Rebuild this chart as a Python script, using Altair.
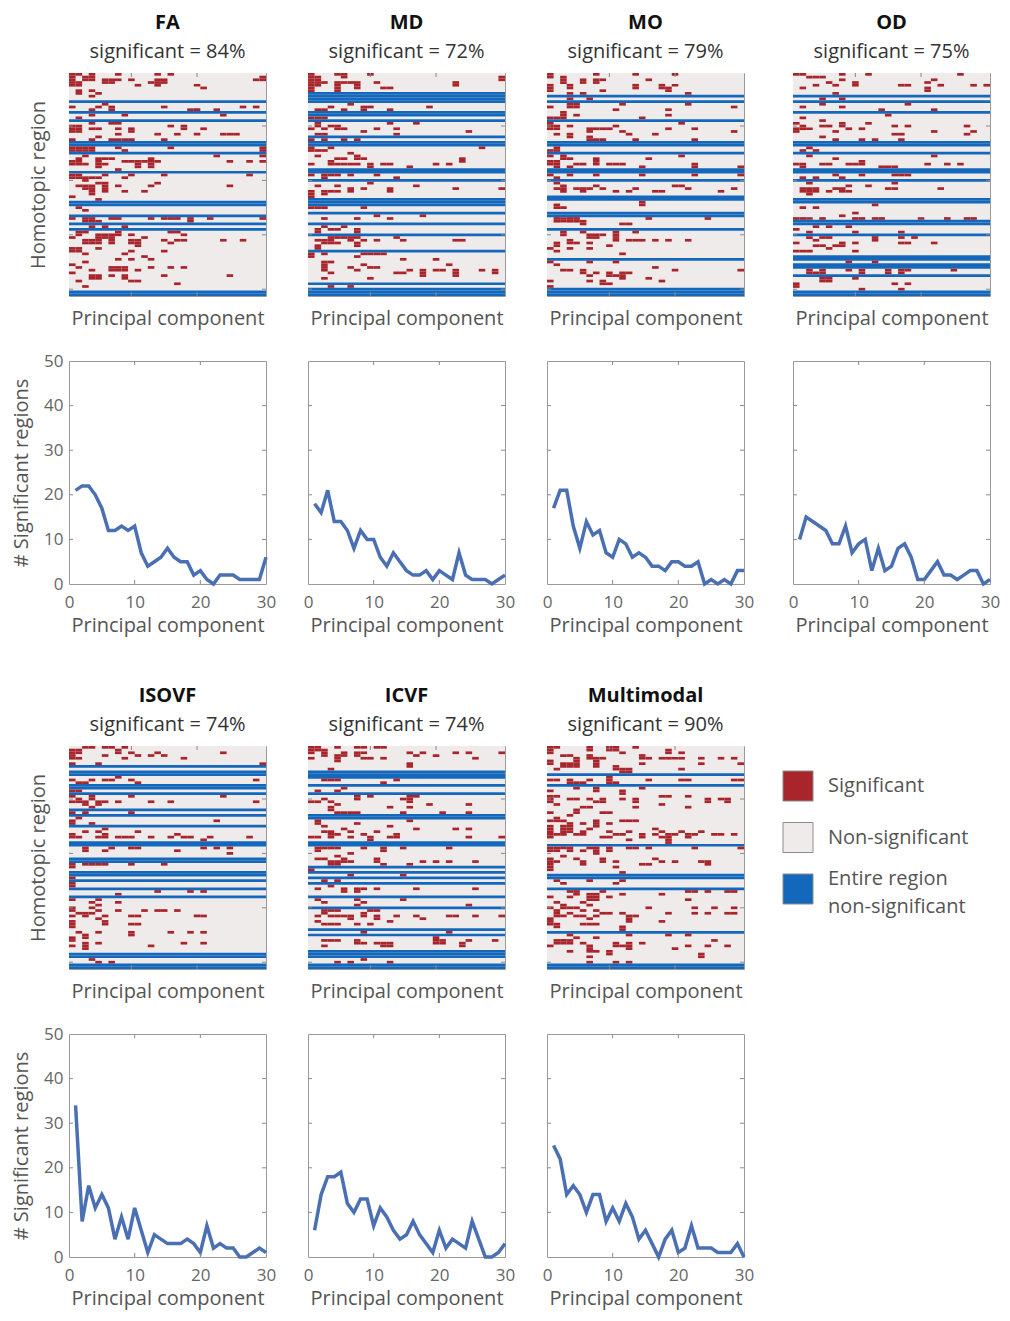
import altair as alt
import pandas as pd

FONT = "Open Sans"
N_ROWS = 82
N_PCS = 30
PCS = list(range(1, 31))
PLOT_W = 197
PLOT_H = 223

PANELS = ["FA", "MD", "MO", "OD", "ISOVF", "ICVF", "Multimodal"]
PERCENT = [84, 72, 79, 75, 74, 74, 90]

STATUS = ["Significant", "Non-significant", "Entire region non-significant"]
LEGEND_LABELS = ["Significant", "Non-significant", "Entire region|non-significant"]
COLORS = ["#A8252B", "#EFEBEB", "#1368BB"]
LINE_COLOR = "#4A70B3"
TICK_COLOR = "#8a8a8a"

HEAT_X_TICKS = [9.5, 19.5]
HEAT_Y_TICKS = [19.5, 39.5, 59.5, 79.5]
LINE_X_TICKS = [10, 20]
LINE_Y_TICKS = [10, 20, 30, 40]

# heatmap rows (top to bottom): "B" = entire region non-significant, otherwise significant PC columns (0-based)
FA_ROWS = [
    "0 1 3 7 13 15", "0 2 3 29", "0 2 3 5 6 7 9 13 14 28 29", "0 1 5 6 12 13 14", "0 1 10 13 19", "20", "1 3", "1 4", "3", "",
    "B", "5", "0 4 6 14 26 28", "3 6 18 19 22", "B", "3 8 23", "1", "B", "3 6 7", "0 1 15 17",
    "0 1 3 4 7 9 17 20", "0 1 9", "7 13 16 19 23 24 25", "4", "0 3 6 7 8 9 14", "B", "B", "0 1 2 3 7 15 29", "0 1 2 3 8 29", "B",
    "2 22 29", "1 4 5 6 12", "0 1 4 8 9 10 11 12 13 24 27 29", "0 1 2 4 5 10 12", "4 10 12", "7", "B", "0 1 5 9 14 27", "0 1 2 3 4 8", "2",
    "4 5 13", "1 2 3 5 7 12 24", "2 3 5", "3 5 8 11", "3", "0", "4", "B", "B", "1",
    "2", "", "B", "0 2 3 6 7 12 14 15 16 18 21 29", "2 3 4 18", "B", "3 5 8", "B", "1 2 7 15 16", "1 4 5 6 7 9 17",
    "0 4 5 6 11", "2 3 4 6 9 10 14 16 17 23 26", "2 3 4 6 9 10 15", "10", "0 1 4", "0 1 9 14", "2 8", "11", "7 9 12", "2",
    "0", "1 6 7 8 12 15 17", "3 6 7 8 10", "0", "3 4 6 8 14 24", "3 4 8", "1 9 10", "16", "2", "",
    "B", "B",
]
MD_ROWS = [
    "0 4 5 9", "0 1 5 29", "0 1 29", "0 1 2 4 5 6 7 10 22", "0 1 4 7 22", "0 4 7 11 12", "0 4", "B", "B", "B",
    "B", "6", "3 8 9 18", "1 2 5 8 12", "B", "B", "0 1 2", "B", "1 12 16", "1 3 4",
    "0 2 4 5 10 13", "8 24", "1 2 13", "B", "0 2 5 7", "B", "B", "0 3 26", "0 1 2", "6",
    "1 7", "4 5 7 8 23", "3 23", "0 3 4 5 6 7 9 11 12 19 21", "9 15", "B", "B", "0 2 3 4 6 10", "2 13", "B",
    "9", "1 4 16", "6 8 12 22 29", "0 2 3 4 6 12", "0 2", "0", "B", "B", "B", "0 1 2 8",
    "", "B", "10 17", "2 7 12", "", "B", "2 5", "1 3 4 7", "1 7", "B",
    "3 4 5 6 7 13", "1 2 3 6 8 10 14 22 23", "2 3 4 7", "1 7", "1", "B", "0 2 8 9 10 11", "0 7", "14 19", "2 3",
    "2 8 21", "2 6 9 10", "2 7 15 17 19 20 22 26 28", "3 13 14 17 22 28", "17 22", "2 9", "", "B", "3 6", "B",
    "B", "B",
]
MO_ROWS = [
    "0 7 13 19", "0 2", "2 5 7 8 15", "2 5 7", "0 3 13 17 19", "0 3 13 17 18", "0 8 18", "3 5 21", "B", "3 6",
    "B", "3 4 11 21", "0 3 4 28", "10 18", "2", "2 4 18", "0 1 2 14", "B", "0 20", "0 1 3 10",
    "0 1 6 7 8 9 18 22", "6 11 28", "1 3 12 16", "3 6", "6 7 8 13 22", "B", "B", "1", "0 1", "B",
    "0 2 20", "2 3 7 15", "0 1 7", "0 1 4 5 7 9 10 11 22", "1 3 14 22 29", "B", "B", "0 3 7 14 22 29", "1", "B",
    "1", "2 7 19 20", "1 2 4 5 6 8 13 21 28", "2 5 10 12 16 17 26", "", "B", "B", "14", "1 14", "1 2",
    "", "B", "B", "1 2 3 4 15 24", "1 2 3 4 5", "5 11 12", "", "B", "2 5 10 13", "2 6 7 8 10",
    "6 7 10", "3 10 12 13 14 16 18 21", "1 3 4 6", "1 9", "0 3 6", "1", "11", "", "B", "0 6 10",
    "1", "16", "2 3 5 19 29", "5 7 9 11 12", "6 9 10 11", "11 15", "0 6 8 17", "8 9", "0", "B",
    "B", "B",
]
OD_ROWS = [
    "0 1 7 11 25", "2 3 4", "7 21", "5 9 20", "3 6 9 16 17 22 27 29", "1 20", "20", "6", "B", "4 7",
    "B", "4 17", "1 7", "13 21", "B", "14", "1", "4", "0 7 11", "1 4 5 7 15 17 26",
    "0 1 2 8 10", "0 6 21 27", "15 16 26", "4", "6 10 12 16", "B", "B", "2", "1 3", "B",
    "2 21", "6", "10", "0 1 4 5 8 9 10 20 23 25", "1 13 14 15", "B", "B", "6 10 15 16 17", "1 3 7", "B",
    "2 15", "8 11", "1 2 3 6 7 14 15 22", "1 2 3 5 7 8", "2", "", "B", "B", "12", "1 3",
    "", "9", "7", "0 1 2 4 9 10 12 13 19 23 26 27", "B", "B", "3 5 8", "0", "2 9 16", "B",
    "2 4 5 12 16 18", "3 12", "0 7 9 16 17 21", "3 4 6 7", "5", "0 1 2 9", "", "B", "B", "8 12",
    "B", "B", "2 4 8 10 14 16 17 24", "2 3 4 10 14 16", "B", "4 5 9", "4 5", "0 15 17", "0", "10 16",
    "B", "B",
]
ISOVF_ROWS = [
    "2 3 5 6 8", "0 1 7", "0 1 7 9 13 23", "0 5 10 12 14", "0 1 8 17", "", "0 4 29", "B", "", "B",
    "B", "7", "0 3 5 6 9 28", "1 2 10", "B", "B", "0 1", "B", "0 3 9 23", "1 3",
    "0 1 2 4 5 7 12 15 28", "2 4", "3", "B", "0 2 9", "B", "1", "0 22", "0 3", "B",
    "5", "2 4 10", "0 5 16", "0 1 4 5 7 8 9 12 15 17 18 21 27", "20", "B", "B", "2 6 9 10 20 22 24", "2 5 16", "24",
    "", "B", "B", "0 2 3 4 5 9 14", "0", "", "B", "B", "0", "B",
    "0", "0", "B", "13 18 20", "7", "B", "0 4", "3 7", "4", "0 3",
    "0 4 7 11 13 14 16", "1 2 3", "0 2 5 9 10 19 20", "4", "0 5", "0 5 9 10", "0", "", "1 4 9 15 18 20", "2 9",
    "0 2", "0", "2 4 17 20", "0 2 12", "2", "", "B", "B", "3", "4 6",
    "B", "B",
]
ICVF_ROWS = [
    "0 1 4 7 8 10 11", "0 1 2", "0 2 5 7 8 15 17 22 24 29", "2 4 5 7 16 19", "0 4 8 9 11 25", "4", "15", "15", "3", "B",
    "B", "B", "2 3 4 13", "11", "B", "5", "1 4", "B", "7 9 15 16", "2 7 14 15",
    "0 1 3 15", "4 18 24", "3 12 15", "3", "4 5 6 7 14 20 24", "B", "B", "1 15", "1 7", "2 12",
    "5 16 22 24", "2 3 6 10", "3 4 8 13", "0 1 3 6 9 12 13 24 29", "9", "B", "B", "1 2 3 4 8 11 14 21", "1 11", "6",
    "4", "1 2 5 10", "3 4 5 6 10 17 19 21 25", "3 4 11 15", "B", "0", "B", "6 14", "B", "2 4",
    "B", "3", "1 5 7 8 10 16 25", "5 7", "", "B", "1 7 14", "2 8", "7 24", "B",
    "2 3 4 9 10", "2 8", "1 3 4 5 6 8 10 13 16 21 22 25 29", "6 10 17", "1 12", "2 3 4 7 9", "", "B", "8 21", "B",
    "19", "2 3 4 7 19 20 24 28", "7 8 10 11 12 19 20 23", "2 11 12 23", "", "B", "B", "B", "8", "4 6 12",
    "B", "B",
]
MULTI_ROWS = [
    "0 1 6 9 10 13", "0 6 9 10 18", "0 11 18 20", "2 3 6 14", "4 6 7 8 14 15 17 18 19 20 23 26 28", "0 4 7", "0 2 3 4 7 14 23 29", "2 3 4 7 10", "1 10 11 12 20", "11 12",
    "B", "9", "0 1 3 6 9 15 20 21 28 29", "3 4 5 9 10", "B", "4 7 14", "0 7 11", "11", "0 1 17 18 21", "0 3 4 6 8 11 13 24 26 27",
    "0 7 8 13 24 27", "1 17", "5 6 13 21", "4", "0 4 8 9", "3", "1", "0 1 2 7 11 12 13", "3 5 7 9", "0 2 3 7",
    "0 2 3 6 16", "0 2 3 5 9 12 17 20 23", "0 1 2 4 5 10 11 14 16 18 19 21 22 25 26 28", "0 8 9 14 17 18 21", "12 18", "18", "B", "0 1 2 3 6 7 9 12 13 15 22 29", "0 1 3 5 7 9", "7",
    "2", "0 4 8 16", "0 1 5 8 10 17 19 23 24", "0 5 14 15 24", "0 10", "0", "11", "B", "B", "1 6 11",
    "2 10", "", "B", "3 4 8 21 22 24 27 28", "4 6 7 11 17", "0 3 6 7 9", "6 7 21", "1 5", "2 6", "0 2 3 4 15 22 25 28",
    "1 5 7", "1 3 8 9 11 18 22 24 27 28", "1 2 4 5 7 12 13", "0 6 12", "0 12 17", "0 1 5 6 7", "1 11", "11", "B", "3 12 18 21",
    "4 7", "1 2 3 25", "1 2 3 5 10 12 14", "0 6 10 11 12 21 24 27", "6 12 19", "3 6 7 9", "9 23", "6 23", "", "6 10 12",
    "B", "B",
]

# number of significant regions per principal component
FA_SIG = [21, 22, 22, 20, 17, 12, 12, 13, 12, 13, 7, 4, 5, 6, 8, 6, 5, 5, 2, 3, 1, 0, 2, 2, 2, 1, 1, 1, 1, 6]
MD_SIG = [18, 16, 21, 14, 14, 12, 8, 12, 10, 10, 6, 4, 7, 5, 3, 2, 2, 3, 1, 3, 2, 1, 7, 2, 1, 1, 1, 0, 1, 2]
MO_SIG = [17, 21, 21, 13, 8, 14, 11, 12, 7, 6, 10, 9, 6, 7, 6, 4, 4, 3, 5, 5, 4, 4, 5, 0, 1, 0, 1, 0, 3, 3]
OD_SIG = [10, 15, 14, 13, 12, 9, 9, 13, 7, 9, 10, 3, 8, 3, 4, 8, 9, 6, 1, 1, 3, 5, 2, 2, 1, 2, 3, 3, 0, 1]
ISOVF_SIG = [34, 8, 16, 11, 14, 11, 4, 9, 4, 11, 6, 1, 5, 4, 3, 3, 3, 4, 3, 1, 7, 2, 3, 2, 2, 0, 0, 1, 2, 1]
ICVF_SIG = [6, 14, 18, 18, 19, 12, 10, 13, 13, 7, 11, 9, 6, 4, 5, 8, 5, 3, 1, 6, 2, 4, 3, 2, 8, 4, 0, 0, 1, 3]
MULTI_SIG = [25, 22, 14, 16, 14, 10, 14, 14, 8, 11, 8, 12, 9, 4, 6, 3, 0, 4, 6, 1, 2, 7, 2, 2, 2, 1, 1, 1, 3, 0]

ROWS = [FA_ROWS, MD_ROWS, MO_ROWS, OD_ROWS, ISOVF_ROWS, ICVF_ROWS, MULTI_ROWS]
SIGS = [FA_SIG, MD_SIG, MO_SIG, OD_SIG, ISOVF_SIG, ICVF_SIG, MULTI_SIG]

COLOR_SCALE = alt.Scale(domain=STATUS, range=COLORS)
HEAT_XS = alt.Scale(domain=[0, N_PCS], nice=False, zero=False)
HEAT_YS = alt.Scale(domain=[0, N_ROWS], nice=False, zero=False, reverse=True)
LINE_XS = alt.Scale(domain=[0, N_PCS], nice=False, zero=False)
LINE_YS = alt.Scale(domain=[0, 50], nice=False, zero=False)


def heat_df(rows):
    rows = (list(rows) + [""] * N_ROWS)[:N_ROWS]
    recs = [dict(x=0, x2=N_PCS, y=0, y2=N_ROWS, status=STATUS[1])]
    for r, s in enumerate(rows):
        if s == "B":
            recs.append(dict(x=0, x2=N_PCS, y=r, y2=r + 1, status=STATUS[2]))
        elif s.strip():
            for c in s.split():
                c = int(c)
                recs.append(dict(x=c, x2=c + 1, y=r, y2=r + 1, status=STATUS[0]))
    return pd.DataFrame(recs)


def enc(field, scale, axis):
    """Shorthand for a quantitative channel definition; axis may be None (hidden)."""
    return dict(field=field, type="quantitative", scale=scale, axis=axis)


def inner_ticks(xfield, yfield, xvals, yvals, xs, ys, xaxis, yaxis):
    """Small inward ticks on all four sides of the frame (MATLAB style)."""
    rule = alt.Chart(pd.DataFrame({xfield: xvals})).mark_rule(color=TICK_COLOR, strokeWidth=1)
    top = rule.encode(x=alt.X(**enc(xfield, xs, xaxis)), y=alt.value(0), y2=alt.value(4))
    bottom = rule.encode(x=alt.X(**enc(xfield, xs, xaxis)), y=alt.value(PLOT_H), y2=alt.value(PLOT_H - 4))
    rule_y = alt.Chart(pd.DataFrame({yfield: yvals})).mark_rule(color=TICK_COLOR, strokeWidth=1)
    left = rule_y.encode(y=alt.Y(**enc(yfield, ys, yaxis)), x=alt.value(0), x2=alt.value(4))
    right = rule_y.encode(y=alt.Y(**enc(yfield, ys, yaxis)), x=alt.value(PLOT_W - 4), x2=alt.value(PLOT_W))
    return [top, bottom, left, right]


def heat_chart(name, pct, rows, first, second_row):
    if first:
        yaxis = alt.Axis(title="Homotopic region", labels=False, ticks=False, domain=False,
                         grid=False, titlePadding=21)
    else:
        yaxis = None
    xaxis = alt.Axis(title="Principal component", labels=False, ticks=False,
                     domain=False, grid=False, titlePadding=12)
    title_text = ["", name] if second_row else name
    cells = alt.Chart(heat_df(rows)).mark_rect(strokeWidth=0).encode(
        x=alt.X(**enc("x", HEAT_XS, xaxis)),
        x2="x2:Q",
        y=alt.Y(**enc("y", HEAT_YS, yaxis)),
        y2="y2:Q",
        color=alt.Color("status:N", scale=COLOR_SCALE, legend=None),
    )
    ticks = inner_ticks("x", "y", HEAT_X_TICKS, HEAT_Y_TICKS, HEAT_XS, HEAT_YS, xaxis, yaxis)
    return alt.layer(cells, *ticks).properties(
        width=PLOT_W, height=PLOT_H,
        title=alt.TitleParams(text=title_text, subtitle=f"significant = {pct}%", anchor="middle",
                              fontSize=20, fontWeight="bold", color="#111", font=FONT,
                              lineHeight=27,
                              subtitleFontSize=20, subtitleColor="#333", subtitleFont=FONT,
                              subtitlePadding=9, offset=11),
    )


def line_chart(vals, first):
    df = pd.DataFrame({"pc": PCS, "n": vals})
    if first:
        yaxis = alt.Axis(title="# Significant regions", values=[0, 10, 20, 30, 40, 50], grid=False,
                         domain=False, ticks=False, labelPadding=6, titlePadding=12)
    else:
        yaxis = None
    xaxis = alt.Axis(title="Principal component", values=[0, 10, 20, 30], grid=False,
                     domain=False, ticks=False, labelFlush=False, labelPadding=10,
                     titlePadding=5)
    line = alt.Chart(df).mark_line(color=LINE_COLOR, strokeWidth=3.5).encode(
        x=alt.X(**enc("pc", LINE_XS, xaxis)),
        y=alt.Y(**enc("n", LINE_YS, yaxis)),
    )
    ticks = inner_ticks("pc", "n", LINE_X_TICKS, LINE_Y_TICKS, LINE_XS, LINE_YS, xaxis, yaxis)
    return alt.layer(line, *ticks).properties(width=PLOT_W, height=PLOT_H)


legend_base = alt.Chart(pd.DataFrame({"status": STATUS, "label": LEGEND_LABELS})).encode(
    y=alt.Y("status:N", sort=STATUS, axis=None,
            scale=alt.Scale(type="point", domain=STATUS, range=[40, 143], padding=0)),
)
legend_squares = legend_base.mark_square(size=900, opacity=1, filled=True, stroke="#8c8c8c",
                                         strokeWidth=1).encode(
    x=alt.value(5),
    color=alt.Color("status:N", scale=COLOR_SCALE, legend=None),
)
text_style = dict(align="left", baseline="middle", fontSize=20, font=FONT, color="#555", lineHeight=28)
legend_text_single = legend_base.mark_text(dy=0, **text_style).encode(
    x=alt.value(35),
    text=alt.Text("label:N"),
).transform_filter("indexof(datum.label, '|') < 0")
legend_text_multi = legend_base.mark_text(dy=-10, **text_style).encode(
    x=alt.value(35),
    text=alt.Text("lines:N"),
).transform_filter("indexof(datum.label, '|') >= 0").transform_calculate(
    lines="split(datum.label, '|')")
legend_cell = alt.layer(legend_squares, legend_text_single, legend_text_multi).properties(
    width=PLOT_W, height=PLOT_H, view=alt.ViewBackground(stroke="transparent"))

cells = []
for i in range(4):
    cells.append(heat_chart(PANELS[i], PERCENT[i], ROWS[i], i == 0, False))
for i in range(4):
    cells.append(line_chart(SIGS[i], i == 0))
for i in range(4, 7):
    cells.append(heat_chart(PANELS[i], PERCENT[i], ROWS[i], i == 4, True))
cells.append(legend_cell)
for i in range(4, 7):
    cells.append(line_chart(SIGS[i], i == 4))

chart = alt.concat(*cells, columns=4, spacing={"row": 22, "column": 25}).properties(
    padding={"left": 3, "top": 4, "right": 0, "bottom": 2}
).configure(
    font=FONT
).configure_view(
    stroke="#9a9a9a", strokeWidth=1
).configure_axis(
    labelFont=FONT, titleFont=FONT, labelFontSize=17, labelColor="#666",
    titleFontSize=20, titleColor="#555", titleFontWeight="normal"
)

chart.save("out.html", embed_options={"renderer": "svg", "actions": False})
